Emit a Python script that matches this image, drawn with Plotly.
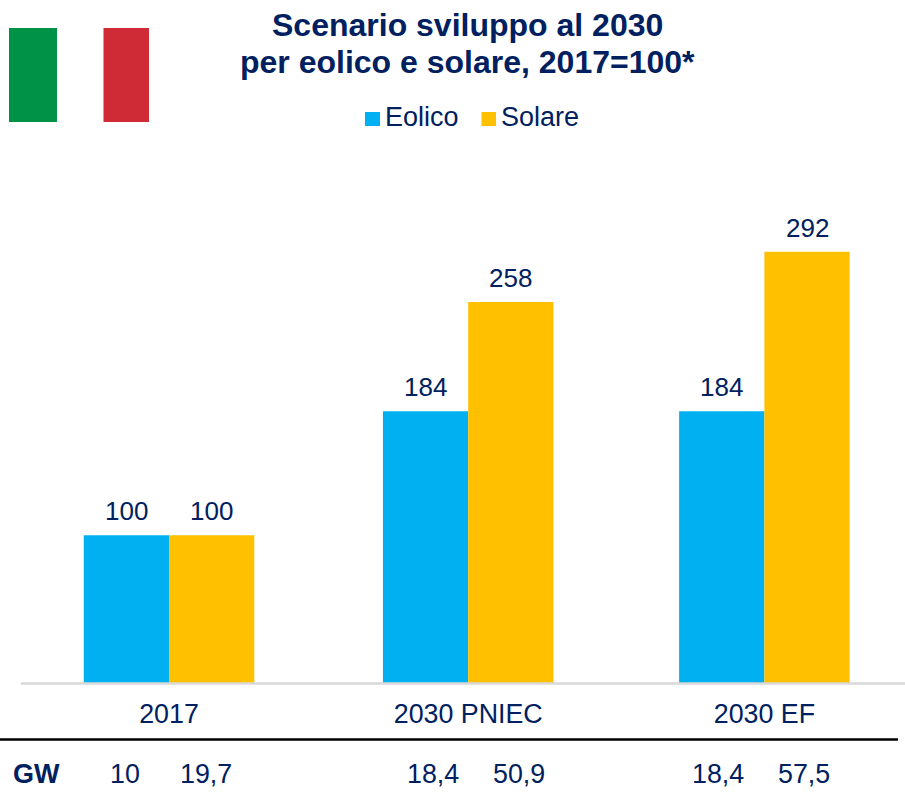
import plotly.graph_objects as go

categories = ["2017", "2030 PNIEC", "2030 EF"]
group_pos = [0, 1, 1.99]
eolico = [100, 184, 184]
solare = [100, 258, 292]
gw_labels = ["10", "19,7", "18,4", "50,9", "18,4", "57,5"]
gw_x = [125.5, 206, 433, 518.5, 718, 804]
title_lines = ["Scenario sviluppo al 2030", "per eolico e solare, 2017=100*"]
NAVY = "#002060"
F = "Liberation Sans"
W, H = 905, 803
BW = 0.285


def px(x):
    return x / W


def py(y):
    return (H - y) / H


fig = go.Figure()
fig.add_bar(x=group_pos, y=eolico, name="Eolico", marker_color="#00B0F0", width=BW, offset=-BW, marker_line_width=0)
fig.add_bar(x=group_pos, y=solare, name="Solare", marker_color="#FFC000", width=BW, offset=0, marker_line_width=0)

fig.update_layout(
    width=W, height=H, margin=dict(l=0, r=0, t=0, b=0),
    paper_bgcolor="white", plot_bgcolor="white", barmode="overlay", showlegend=False,
    font=dict(family=F, color=NAVY),
    xaxis=dict(domain=[0, 1], range=[-0.565, 2.46], tickvals=group_pos, ticktext=categories, showgrid=False,
               tickfont=dict(size=26.8, color=NAVY, family=F), ticks="outside", ticklen=7,
               tickcolor="rgba(0,0,0,0)", showline=False, zeroline=False, fixedrange=True),
    yaxis=dict(domain=[py(683), 1], range=[0, 462.5], visible=False, fixedrange=True),
)


def rect(x0, x1, y0, y1, color):
    return dict(type="rect", xref="paper", yref="paper", x0=px(x0), x1=px(x1), y0=py(y1), y1=py(y0),
                fillcolor=color, line_width=0)


shapes = [
    dict(type="line", xref="paper", yref="paper", x0=px(21), x1=1, y0=py(683.5), y1=py(683.5),
         line=dict(color="#D9D9D9", width=2.5)),
    dict(type="line", xref="paper", yref="paper", x0=0, x1=px(898), y0=py(739.5), y1=py(739.5),
         line=dict(color="black", width=2.5)),
    rect(9, 57, 28, 122, "#009246"),
    rect(103.5, 149, 28, 122, "#CE2B37"),
    rect(365, 380, 112, 126, "#00B0F0"),
    rect(481.5, 496, 112, 126, "#FFC000"),
]


def label(x, y, text, size, anchor="center"):
    return dict(x=px(x), y=py(y), text=text, xanchor=anchor, yanchor="middle", showarrow=False,
                xref="paper", yref="paper", font=dict(size=size, color=NAVY, family=F))


ann = [
    label(468, 25, f"<b>{title_lines[0]}</b>", 32),
    label(468, 62, f"<b>{title_lines[1]}</b>", 32),
    label(383, 117, "Eolico", 27, "left"),
    label(499, 117, "Solare", 27, "left"),
    label(11, 774, "<b>GW</b>", 27, "left"),
]
for t, x in zip(gw_labels, gw_x):
    ann.append(label(x, 774, t, 26.8))
for xs, ys, shift in ((group_pos, eolico, -BW / 2), (group_pos, solare, BW / 2)):
    for x, y in zip(xs, ys):
        ann.append(dict(x=x + shift, y=y, text=str(y), xref="x", yref="y", yshift=24, xanchor="center",
                        yanchor="middle", showarrow=False, font=dict(size=26, color=NAVY, family=F)))
fig.update_layout(shapes=shapes, annotations=ann)
fig.write_html("out.html", post_script="document.body.style.margin='0';", config={"displayModeBar": False})
